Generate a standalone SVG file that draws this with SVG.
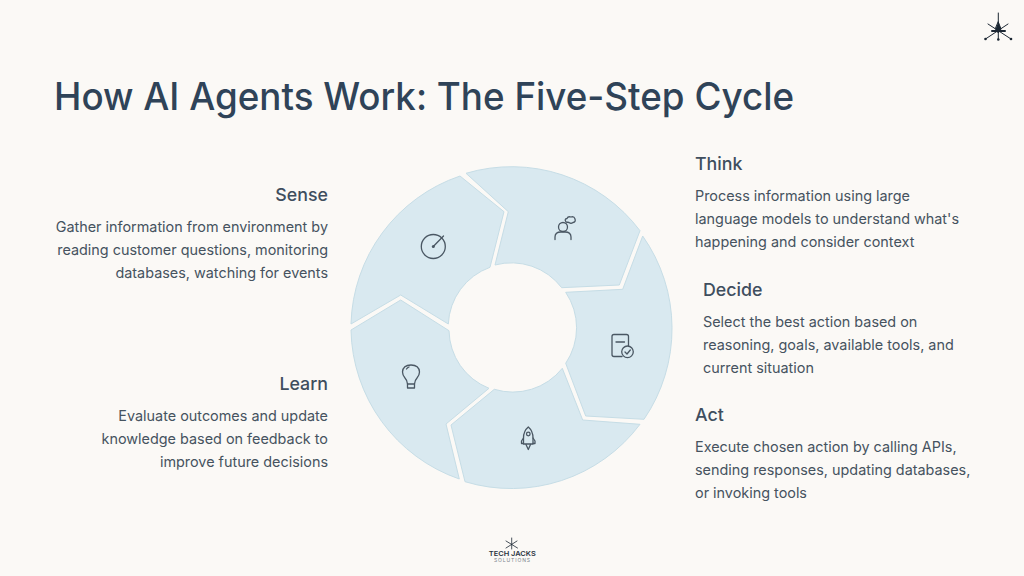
<svg xmlns="http://www.w3.org/2000/svg" width="1024" height="576" viewBox="0 0 1024 576">
<style>
text{font-family:"Inter","Liberation Sans",sans-serif;fill:#46535f}
.title{font-size:38px;font-weight:500;fill:#2f4358}
.h{font-size:17.800px;font-weight:500;fill:#3f4e5e}
.b{font-size:14.400px;font-weight:400}
.e{text-anchor:end}
.seg{fill:#d9e9f0;stroke:#c6dde6;stroke-width:1}
.ic{fill:none;stroke:#4a5763;stroke-width:1.3;stroke-linecap:round;stroke-linejoin:round}
.lg{stroke:#1c2733;fill:none;stroke-linecap:round}
</style>
<rect width="1024" height="576" fill="#fbf9f6"/>
<text class="title" x="54" y="110" textLength="740" lengthAdjust="spacingAndGlyphs">How AI Agents Work: The Five-Step Cycle</text>
<g id="connectors"></g>
<g id="sense">
<path class="seg" d="M351 324L400.700 295L448.300 324A63.300 63.300 0 0 1 490 267.300L504 211.700L460 176A160.800 160.800 0 0 0 351 324Z"/>
<g class="ic"><circle cx="433.300" cy="246.500" r="12"/><path d="M433.300 246.500L443.500 236"/></g><circle cx="433.300" cy="246.500" r="1.500" fill="#4a5763"/>
<text class="h e" x="328" y="201">Sense</text>
<text class="b e" x="328" y="232">Gather information from environment by</text>
<text class="b e" x="328" y="255">reading customer questions, monitoring</text>
<text class="b e" x="328" y="278">databases, watching for events</text>
</g>
<g id="think">
<path class="seg" d="M466 173.300L508.300 211.700L495 265A63.300 63.300 0 0 1 561.700 287.700L619.300 285L640 230.700A160.800 160.800 0 0 0 466 173.300Z"/>
<g class="ic"><circle cx="563" cy="227" r="4.500"/><path d="M555 239.500V237Q555 232 561 232H565Q571 232 571 237V239.500"/><path d="M566 222Q564 219 567 218.500Q568 216 571 217Q574 216 575 219Q576 222 573 222.500Q571 224 569 222.500Z"/></g>
<text class="h" x="695" y="170">Think</text>
<text class="b" x="695" y="201">Process information using large</text>
<text class="b" x="695" y="224">language models to understand what's</text>
<text class="b" x="695" y="247">happening and consider context</text>
</g>
<g id="decide">
<path class="seg" d="M642.700 236L622.700 289.300L565.700 292.300A63.300 63.300 0 0 1 565.700 363.300L585.700 416L644 419.300A160.800 160.800 0 0 0 642.700 236Z"/>
<g class="ic"><path d="M622 356.500H614Q612 356.500 612 354.500V336.500Q612 334.500 614 334.500H626.500Q628.500 334.500 628.500 336.500V345.500"/><path d="M616 342H624.500"/><circle cx="627.500" cy="351.800" r="5.800"/><path d="M625 352L627 354L630.300 350"/></g>
<text class="h" x="703" y="296">Decide</text>
<text class="b" x="703" y="327">Select the best action based on</text>
<text class="b" x="703" y="350">reasoning, goals, available tools, and</text>
<text class="b" x="703" y="373">current situation</text>
</g>
<g id="act">
<path class="seg" d="M640 424.300L582.700 420L562.300 368.300A63.300 63.300 0 0 1 494.300 389.300L451 425L465 481.700A160.800 160.800 0 0 0 640 424.300Z"/>
<g class="ic"><path d="M528.300 427Q533 431 533 438V444H523.500V438Q523.500 431 528.300 427Z"/><circle cx="528.300" cy="434" r="1.800"/><path d="M523.500 438L521.500 441V443.500H523.500M533 438L535 441V443.500H533M526 444.500L528.300 449.500L530.500 444.500"/></g>
<text class="h" x="695" y="421">Act</text>
<text class="b" x="695" y="452">Execute chosen action by calling APIs,</text>
<text class="b" x="695" y="475">sending responses, updating databases,</text>
<text class="b" x="695" y="498">or invoking tools</text>
</g>
<g id="learn">
<path class="seg" d="M459.300 479L446 424L489 388.300A63.300 63.300 0 0 1 449 330.700L400.700 300L351 330A160.800 160.800 0 0 0 459.300 479Z"/>
<g class="ic"><path d="M407.500 384Q407 380 405 378Q402.500 375 402.500 372Q403 365 411 365Q419 365 419.500 372Q419.500 375 417 378Q415 380 414.500 384Z"/><path d="M407.500 388H414.500L414.500 384M407.500 388V384M406.500 369Q407.500 367.500 409 367"/></g>
<text class="h e" x="328" y="390">Learn</text>
<text class="b e" x="328" y="421">Evaluate outcomes and update</text>
<text class="b e" x="328" y="444">knowledge based on feedback to</text>
<text class="b e" x="328" y="467">improve future decisions</text>
</g>
<g id="logo-top">
<g class="lg" stroke-width="1"><path d="M998.300 13V39"/><path d="M985.500 39L1008 24M1011 39L988 24"/><path d="M998.300 22L1001 29L998.300 33L995.500 29Z" fill="#1c2733"/><path d="M992 31L1005 31" stroke-width="2"/></g>
<g fill="#1c2733"><circle cx="985.500" cy="39" r="1.300"/><circle cx="1011" cy="39" r="1.300"/><circle cx="998.300" cy="39.500" r="1.300"/></g>
</g>
<g id="logo-bottom">
<path class="lg" stroke-width="0.800" d="M511.700 538V549M506 548L517 541M517.500 548L506 541"/>
<text x="512.300" y="555.500" text-anchor="middle" font-size="6.500" font-weight="600" textLength="47" lengthAdjust="spacingAndGlyphs" style="fill:#2a3440">TECH JACKS</text>
<text x="512" y="561.500" text-anchor="middle" font-size="5" textLength="36" lengthAdjust="spacing" style="fill:#7a838c">SOLUTIONS</text>
</g>
</svg>
